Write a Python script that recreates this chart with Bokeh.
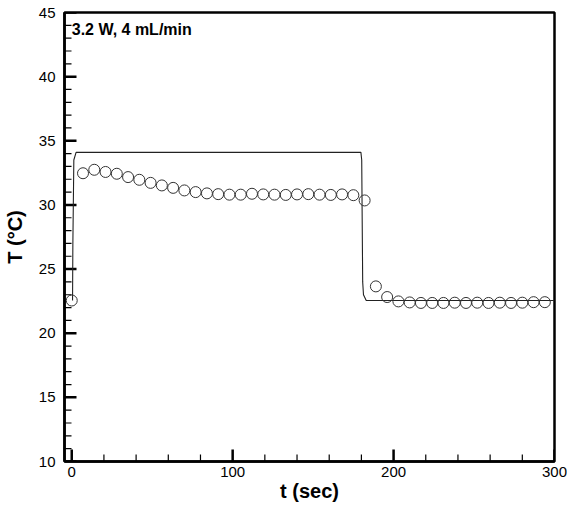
from bokeh.plotting import figure
from bokeh.models import Label, Range1d, FixedTicker
from bokeh.embed import file_html
from bokeh.resources import INLINE

# Measured temperature (open circles), sampled every 7 s
t_meas = [0, 7, 14, 21, 28, 35, 42, 49, 56, 63, 70, 77, 84, 91, 98, 105, 112,
          119, 126, 133, 140, 147, 154, 161, 168, 175, 182, 189, 196, 203, 210,
          217, 224, 231, 238, 245, 252, 259, 266, 273, 280, 287, 294]
T_meas = [22.55, 32.47, 32.74, 32.57, 32.43, 32.17, 31.96, 31.72, 31.52, 31.33,
          31.13, 31.0, 30.9, 30.84, 30.8, 30.8, 30.87, 30.82, 30.8, 30.78, 30.82,
          30.84, 30.8, 30.78, 30.82, 30.76, 30.35, 23.65, 22.82, 22.48, 22.4,
          22.36, 22.36, 22.36, 22.38, 22.36, 22.38, 22.36, 22.38, 22.36, 22.38,
          22.42, 22.42]

# Model prediction (solid line): step heating between t = 0 and 180 s
t_model = [0.5, 0.7, 1.3, 2.7, 179.7, 180.2, 180.8, 181.3, 183.0, 300.0]
T_model = [22.55, 27.0, 33.5, 34.1, 34.1, 33.5, 24.0, 23.0, 22.55, 22.55]

x_major = [0, 100, 200, 300]
y_major = [10, 15, 20, 25, 30, 35, 40, 45]
x_minor = [v for v in range(0, 301, 20) if v not in x_major]
y_minor = [v for v in range(10, 46, 1) if v not in y_major]

FONT = "Liberation Sans"
W, H = 567, 506
BL, BR, BT, BB = 64, 13, 12, 45
X0, X1, Y0, Y1 = -4.5, 300, 10, 45

p = figure(width=W, height=H, output_backend="svg", toolbar_location=None,
           x_range=Range1d(X0, X1), y_range=Range1d(Y0, Y1),
           min_border_left=BL, min_border_right=BR, min_border_top=BT,
           min_border_bottom=BB)
p.background_fill_color = "white"
p.border_fill_color = "white"
p.outline_line_color = "black"
p.outline_line_width = 2.5
p.grid.visible = False

# data units per screen pixel, used for the inward tick lengths
xu = (X1 - X0) / (W - BL - BR)
yu = (Y1 - Y0) / (H - BT - BB)

# inward ticks along the bottom and left edges of the frame
p.segment(x0=x_major, y0=[Y0] * len(x_major), x1=x_major,
          y1=[Y0 + 12 * yu] * len(x_major), line_color="black", line_width=2.5)
p.segment(x0=x_minor, y0=[Y0] * len(x_minor), x1=x_minor,
          y1=[Y0 + 7 * yu] * len(x_minor), line_color="black", line_width=1.2)
p.segment(x0=[X0] * len(y_major), y0=y_major, x1=[X0 + 12 * xu] * len(y_major),
          y1=y_major, line_color="black", line_width=2.5)
p.segment(x0=[X0] * len(y_minor), y0=y_minor, x1=[X0 + 7 * xu] * len(y_minor),
          y1=y_minor, line_color="black", line_width=1.2)

p.line(t_model, T_model, line_color="#222222", line_width=1.1)
p.scatter(t_meas, T_meas, marker="circle", size=11, fill_color=None,
          line_color="#333333", line_width=1)

for ax, major in ((p.xaxis[0], x_major), (p.yaxis[0], y_major)):
    ax.ticker = FixedTicker(ticks=major, minor_ticks=[])
    ax.axis_line_color = "black"
    ax.axis_line_width = 2.5
    ax.major_tick_in = 0
    ax.major_tick_out = 0
    ax.minor_tick_in = 0
    ax.minor_tick_out = 0
    ax.major_label_text_font = FONT
    ax.major_label_text_font_size = "15px"
    ax.major_label_text_color = "black"
    ax.axis_label_text_font = FONT
    ax.axis_label_text_font_size = "20px"
    ax.axis_label_text_font_style = "bold"
    ax.axis_label_text_color = "black"

p.xaxis.axis_label = "t (sec)"
p.xaxis.major_label_standoff = 5
p.xaxis.axis_label_standoff = 0
p.yaxis.axis_label = "T (°C)"
p.yaxis.major_label_standoff = 9
p.yaxis.axis_label_standoff = 10

p.add_layout(Label(x=0, y=43.65, text="3.2 W, 4 mL/min", text_font=FONT,
                   text_font_size="16px", text_font_style="bold",
                   text_color="black", text_baseline="alphabetic"))

open("out.html", "w").write(file_html(p, INLINE))
